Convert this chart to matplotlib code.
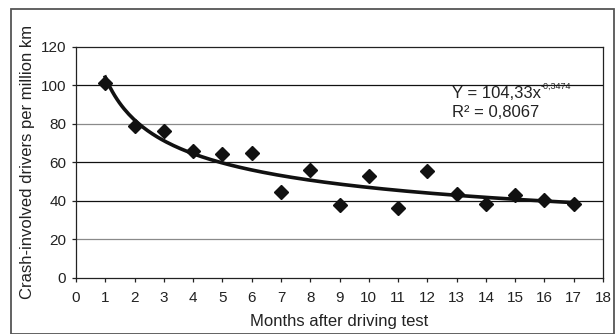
import numpy as np
from matplotlib import pyplot as plt
from matplotlib.patches import Rectangle

plt.rcParams['font.family'] = ['Liberation Sans', 'DejaVu Sans']

months = [1, 2, 3, 4, 5, 6, 7, 8, 9, 10, 11, 12, 13, 14, 15, 16, 17]
crash_rate = [101, 79, 76.5, 66, 64.2, 65, 44.3, 56, 37.6, 53.1, 36, 55.7, 43.5, 38.5, 42.8, 40.5, 38.5]
# power trend line shown on the chart: Y = a * x^b
fit_a = 104.33
fit_b = -0.3474
fit_r2 = 0.8067
y_ticks = [0, 20, 40, 60, 80, 100, 120]
x_ticks = list(range(0, 19))

fig = plt.figure(figsize=(6.16, 3.34), dpi=100)
fig.patches.append(Rectangle((11 / 616, 0), 603 / 616, 325 / 334, transform=fig.transFigure,
                             fill=False, edgecolor='#555555', linewidth=1.3))
ax = fig.add_axes([76 / 616, 56.5 / 334, 527 / 616, 230.5 / 334])

# grid lines (some print darker than others in the source)
grid_colors = {20: '#8a8a8a', 40: '#111111', 60: '#111111', 80: '#8a8a8a', 100: '#111111'}
for v, c in grid_colors.items():
    ax.axhline(v, color=c, linewidth=0.9, zorder=1)

xs = np.linspace(months[0], months[-1], 200)
ax.plot(xs, fit_a * xs ** fit_b, color='#111111', linewidth=2.6, zorder=2)
ax.plot(months, crash_rate, linestyle='none', marker='D', markersize=7.5,
        color='#111111', zorder=3)

ax.set_xlim(0, 18)
ax.set_ylim(0, 120)
ax.set_xticks(x_ticks)
ax.set_yticks(y_ticks)
ax.tick_params(axis='both', labelsize=11, length=3, width=0.9, color='#222222', labelcolor='#222222')
ax.tick_params(axis='y', pad=4)
ax.tick_params(axis='x', pad=7)
for s in ax.spines.values():
    s.set_color('#222222')
    s.set_linewidth(0.9)

ax.set_ylabel('Crash-involved drivers per million km', fontsize=12, color='#222222', labelpad=4)
ax.set_xlabel('Months after driving test', fontsize=12, color='#222222', labelpad=6)

t = ax.text(12.83, 93.3, 'Y = 104,33x', fontsize=12, color='#222222', va='baseline')
ax.annotate('-0,3474', xy=(1, 0.72), xycoords=t, fontsize=6.5, color='#222222', va='bottom')
ax.text(12.83, 83.7, 'R² = 0,8067', fontsize=12, color='#222222', va='baseline')

fig.savefig('out.png', dpi=100)
